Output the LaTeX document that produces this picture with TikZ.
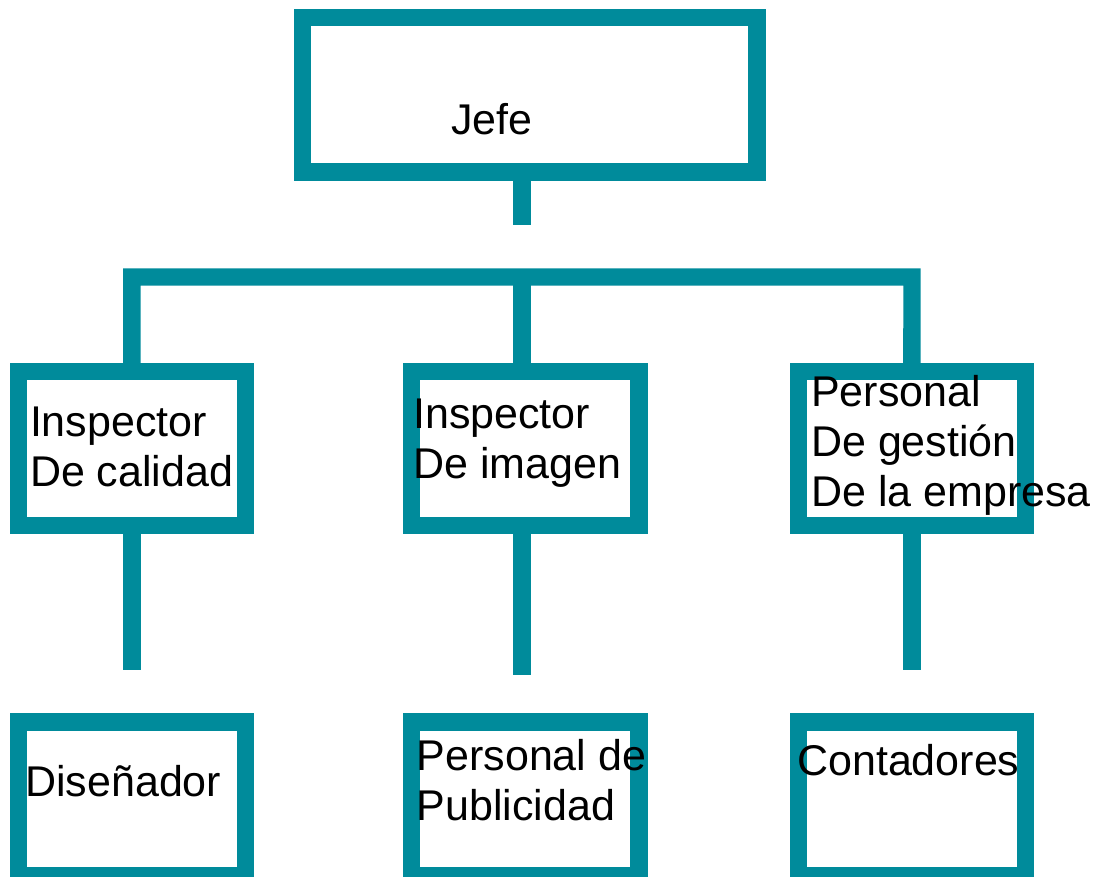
\documentclass[tikz,border=0pt]{standalone}
\usepackage{fontspec}
\setmainfont{Liberation Sans}
\definecolor{teal1}{RGB}{0,139,155}
\begin{document}
\begin{tikzpicture}[x=1pt,y=-1pt,
  box/.style={draw=teal1, line width=17.4pt, minimum width=227.2pt, minimum height=154pt, inner sep=0pt, anchor=center},
  link/.style={draw=teal1, line width=17.4pt, line join=miter},
  lbl/.style={anchor=base west, inner sep=0pt, align=left, font=\fontsize{43}{50}\selectfont}]
\useasboundingbox (0,0) rectangle (1098,877);
% boxes
\node[box, minimum width=454.7pt, minimum height=154.2pt] (jefe) at (529.7,94.9) {};
\node[box] (ib1) at (131.9,448.5) {};
\node[box] (ib2) at (525.2,448.5) {};
\node[box] (ib3) at (911.9,448.5) {};
\node[box] (bb1) at (131.9,799) {};
\node[box] (bb2) at (525.2,799) {};
\node[box] (bb3) at (911.9,799) {};
% connector ends
\coordinate (jstem) at (522,225.3);
\coordinate (barR) at (912,277);
\coordinate (barM) at (522,277);
\coordinate (s1) at (132,670);
\coordinate (s2) at (522,675.3);
\coordinate (s3) at (912,670);
% connectors
\draw[link] (jefe.south -| jstem) -- (jstem);
\draw[link] (ib1.north) |- (barR) -- (ib3.north);
\draw[link] (barM) -- (barM |- ib2.north);
\draw[link] (ib1.south -| s1) -- (s1);
\draw[link] (ib2.south -| s2) -- (s2);
\draw[link] (ib3.south -| s3) -- (s3);
% texts (base = baseline of the last line)
\node[lbl] (tjefe) at (451,135) {Jefe};
\node[lbl] (t1) at (29.8,486.7) {Inspector\\De calidad};
\node[lbl] (t2) at (413,478.3) {Inspector\\De imagen};
\node[lbl] (t3) at (811,506.7) {Personal\\De gestión\\De la empresa};
\node[lbl] (t4) at (25,796.7) {Diseñador};
\node[lbl] (t5) at (416.5,820) {Personal de\\Publicidad};
\node[lbl] (t6) at (797,775.7) {Contadores};
\end{tikzpicture}
\end{document}
